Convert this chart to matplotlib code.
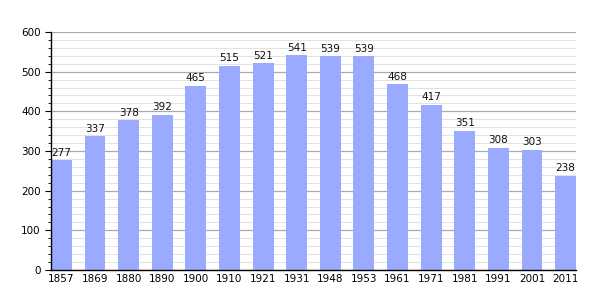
import matplotlib
matplotlib.use("Agg")
import matplotlib.pyplot as plt
import numpy as np

years = ["1857", "1869", "1880", "1890", "1900", "1910", "1921", "1931",
         "1948", "1953", "1961", "1971", "1981", "1991", "2001", "2011"]
population = [277, 337, 378, 392, 465, 515, 521, 541, 539, 539, 468, 417, 351, 308, 303, 238]

fig = plt.figure(figsize=(6.05, 3.0), dpi=100)
ax = fig.add_axes([51/605, 30/300, 525/605, 238/300])

x = np.arange(len(years))
w = 0.62
ax.bar(x, population, width=w, color="#99aaff", zorder=3)
for xi, v in zip(x, population):
    ax.text(xi, v + 6, str(v), ha="center", va="bottom", fontsize=7.5, color="#111111", zorder=4)

ax.set_xlim(-w/2, len(years) - 1 + w/2)
ax.set_ylim(0, 600)
ax.set_xticks(x)
ax.set_xticklabels(years, fontsize=7.5)
ax.set_yticks(np.arange(0, 601, 100))
ax.set_yticks(np.arange(0, 601, 20), minor=True)
ax.tick_params(axis="y", labelsize=7.5, length=4, width=0.8, direction="out")
ax.tick_params(axis="y", which="minor", length=2.5, width=0.6)
ax.tick_params(axis="x", length=0, pad=3)
ax.grid(axis="y", which="major", color="#aaaaaa", linewidth=0.9, zorder=0)
ax.grid(axis="y", which="minor", color="#e2e2e2", linewidth=0.7, zorder=0)
ax.set_axisbelow(True)
for s in ["top", "right"]:
    ax.spines[s].set_visible(False)
ax.spines["left"].set_linewidth(1.0)
ax.spines["bottom"].set_linewidth(1.0)
ax.spines["left"].set_zorder(5)
ax.spines["bottom"].set_zorder(5)

fig.savefig("out.png", dpi=100)
